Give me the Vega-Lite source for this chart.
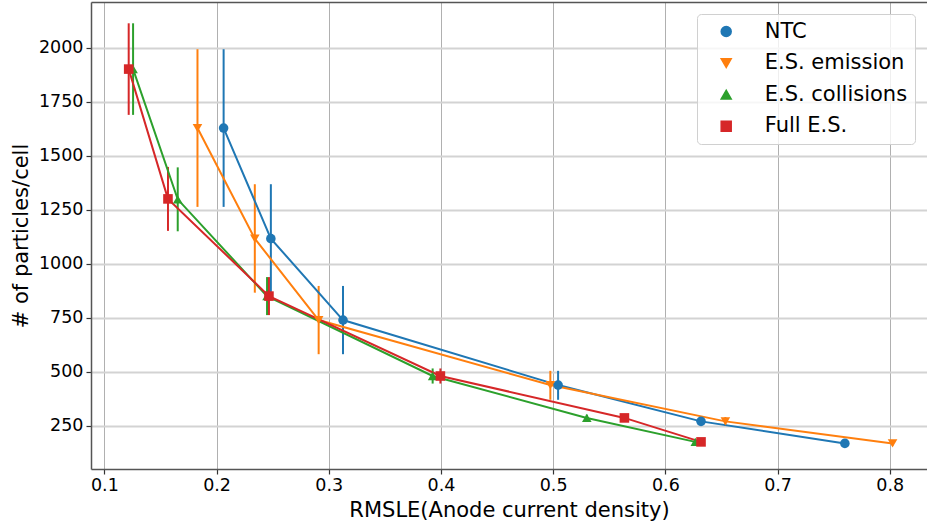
{
  "$schema": "https://vega.github.io/schema/vega-lite/v6.json",
  "width": 836,
  "height": 467,
  "autosize": {"type": "none"},
  "padding": {"left": 91, "top": 2, "right": 0, "bottom": 56},
  "background": "white",
  "config": {
    "font": "DejaVu Sans",
    "view": {"stroke": null},
    "axis": {
      "labelFont": "DejaVu Sans",
      "titleFont": "DejaVu Sans",
      "labelColor": "#000000",
      "titleColor": "#000000",
      "titleFontWeight": "normal",
      "labelFontSize": 17.5,
      "titleFontSize": 21,
      "tickColor": "#333333",
      "tickSize": 5,
      "tickWidth": 1.2,
      "domainColor": "#555555",
      "domainWidth": 1.5
    },
    "legend": {
      "orient": "none",
      "legendX": 606,
      "legendY": 12,
      "padding": 7,
      "symbolOffset": 11.7,
      "labelOffset": 28,
      "labelFontSize": 21,
      "labelFont": "DejaVu Sans",
      "labelColor": "#000000",
      "labelLimit": 400,
      "rowPadding": 9.6,
      "strokeColor": "#d0d0d0",
      "fillColor": "rgba(255,255,255,0.8)",
      "cornerRadius": 4
    }
  },
  "data": {
    "values": [
      {"series": "NTC", "x": 0.2063, "y": 1628, "lo": 1263, "hi": 1993},
      {"series": "NTC", "x": 0.2484, "y": 1116, "lo": 866, "hi": 1368},
      {"series": "NTC", "x": 0.3127, "y": 739, "lo": 581, "hi": 897},
      {"series": "NTC", "x": 0.5044, "y": 438, "lo": 370, "hi": 504},
      {"series": "NTC", "x": 0.6318, "y": 270, "lo": 250, "hi": 290},
      {"series": "NTC", "x": 0.7600, "y": 168, "lo": 158, "hi": 178},
      {"series": "E.S. emission", "x": 0.1830, "y": 1628, "lo": 1263, "hi": 1993},
      {"series": "E.S. emission", "x": 0.2341, "y": 1116, "lo": 866, "hi": 1368},
      {"series": "E.S. emission", "x": 0.2910, "y": 739, "lo": 581, "hi": 897},
      {"series": "E.S. emission", "x": 0.4975, "y": 438, "lo": 370, "hi": 504},
      {"series": "E.S. emission", "x": 0.6535, "y": 270, "lo": 250, "hi": 290},
      {"series": "E.S. emission", "x": 0.8025, "y": 168, "lo": 158, "hi": 178},
      {"series": "E.S. collisions", "x": 0.1256, "y": 1901, "lo": 1689, "hi": 2113},
      {"series": "E.S. collisions", "x": 0.1654, "y": 1298, "lo": 1150, "hi": 1446},
      {"series": "E.S. collisions", "x": 0.2450, "y": 850, "lo": 762, "hi": 938},
      {"series": "E.S. collisions", "x": 0.3926, "y": 480, "lo": 445, "hi": 515},
      {"series": "E.S. collisions", "x": 0.5300, "y": 286, "lo": 271, "hi": 301},
      {"series": "E.S. collisions", "x": 0.6267, "y": 175, "lo": 167, "hi": 183},
      {"series": "Full E.S.", "x": 0.1217, "y": 1901, "lo": 1689, "hi": 2113},
      {"series": "Full E.S.", "x": 0.1567, "y": 1300, "lo": 1152, "hi": 1448},
      {"series": "Full E.S.", "x": 0.2467, "y": 850, "lo": 762, "hi": 938},
      {"series": "Full E.S.", "x": 0.3995, "y": 480, "lo": 445, "hi": 515},
      {"series": "Full E.S.", "x": 0.5635, "y": 286, "lo": 271, "hi": 301},
      {"series": "Full E.S.", "x": 0.6318, "y": 175, "lo": 167, "hi": 183}
    ]
  },
  "resolve": {"axis": {"x": "independent"}},
  "layer": [
    {
      "mark": {"type": "rule", "strokeWidth": 2},
      "encoding": {
        "x": {
          "field": "x", "type": "quantitative",
          "scale": {"domain": [0.0881, 0.8332], "nice": false, "zero": false},
          "axis": {
            "orient": "bottom",
            "title": "RMSLE(Anode current density)",
            "values": [0.1, 0.2, 0.3, 0.4, 0.5, 0.6, 0.7, 0.8],
            "format": ".1f",
            "labelFlush": false,
            "labelPadding": 2,
            "titlePadding": 6,
            "grid": true,
            "gridColor": "#b0b0b0",
            "gridWidth": 1
          }
        },
        "y": {
          "field": "lo", "type": "quantitative",
          "scale": {"domain": [49.5, 2211.6], "nice": false, "zero": false},
          "axis": {
            "title": "# of particles/cell",
            "values": [250, 500, 750, 1000, 1250, 1500, 1750, 2000],
            "format": "d",
            "labelPadding": 3,
            "titlePadding": 7,
            "grid": true,
            "gridColor": "#d3d3d3",
            "gridWidth": 1.8
          }
        },
        "y2": {"field": "hi"},
        "color": {
          "field": "series", "type": "nominal",
          "scale": {
            "domain": ["NTC", "E.S. emission", "E.S. collisions", "Full E.S."],
            "range": ["#1f77b4", "#ff7f0e", "#2ca02c", "#d62728"]
          }
        }
      }
    },
    {
      "mark": {"type": "line", "strokeWidth": 2},
      "encoding": {
        "x": {
          "field": "x", "type": "quantitative",
          "axis": {"orient": "top", "labels": false, "ticks": false, "grid": false, "domain": true, "title": null}
        },
        "y": {"field": "y", "type": "quantitative"},
        "color": {"field": "series", "type": "nominal"}
      }
    },
    {
      "mark": {"type": "point", "filled": true, "opacity": 1, "size": 92},
      "encoding": {
        "x": {"field": "x", "type": "quantitative", "axis": null},
        "y": {"field": "y", "type": "quantitative"},
        "color": {"field": "series", "type": "nominal", "legend": {"title": null}},
        "shape": {
          "field": "series", "type": "nominal",
          "legend": {"title": null},
          "scale": {
            "domain": ["NTC", "E.S. emission", "E.S. collisions", "Full E.S."],
            "range": ["circle", "triangle-down", "triangle-up", "square"]
          }
        }
      }
    }
  ]
}
